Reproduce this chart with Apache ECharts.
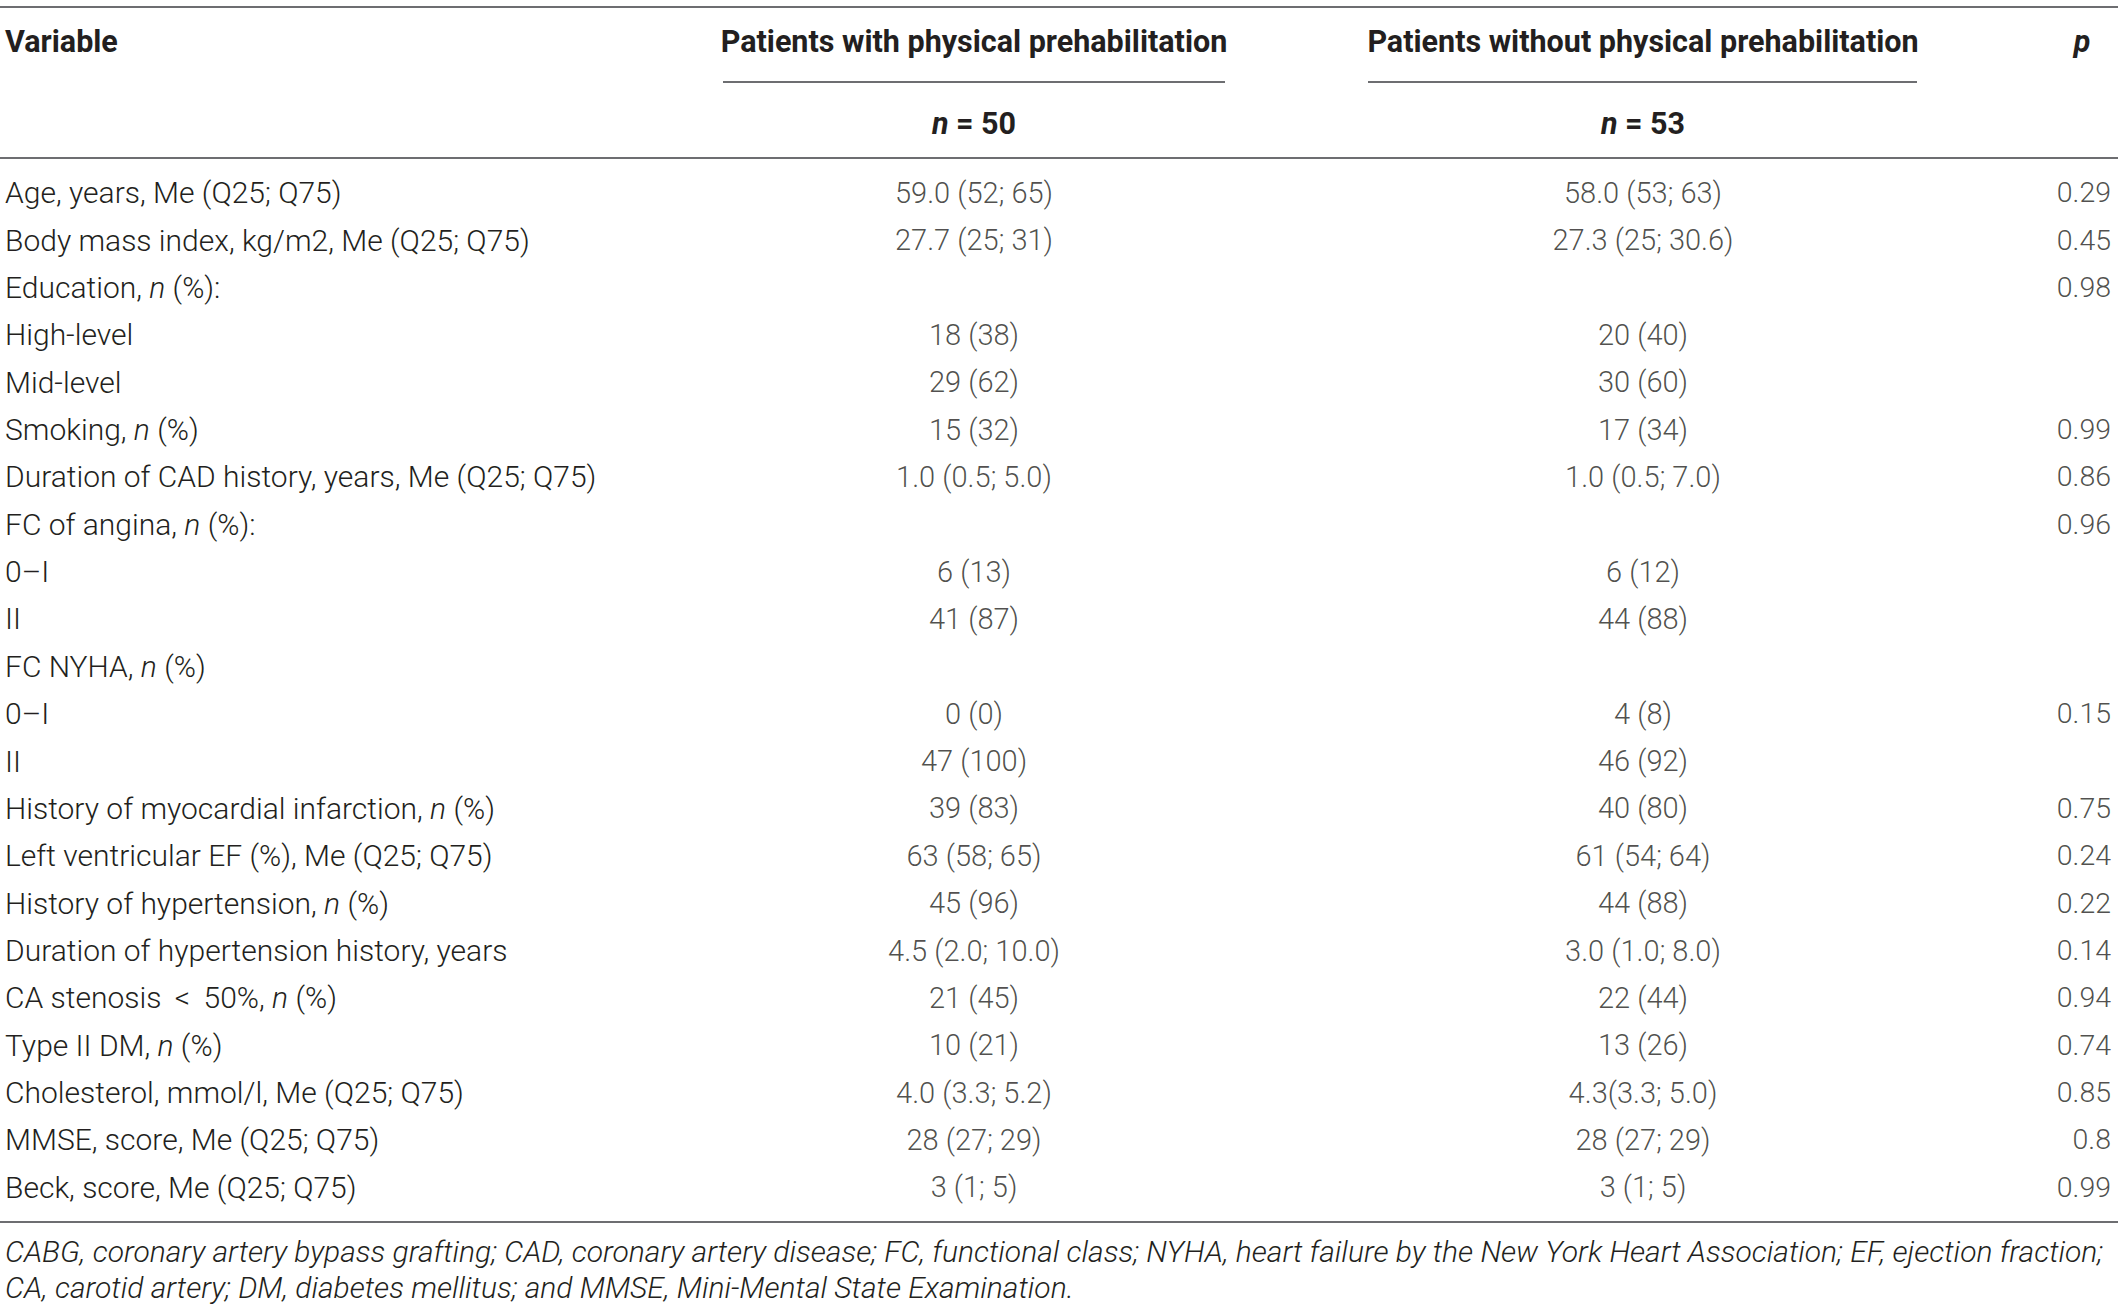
<!DOCTYPE html>
<html>
<head>
<meta charset="utf-8">
<script src="https://cdn.jsdelivr.net/npm/echarts@6/dist/echarts.min.js"></script>
<style>
	html, body { margin: 0; padding: 0; background: #fff; }
	#table { width: 2118px; height: 1309px; }
</style>
</head>
<body>
<div id="table"></div>
<script>
// row labels, {i|...} marks italic parts
var variables = [
	'Age, years, Me (Q25; Q75)',
	'Body mass index, kg/m2, Me (Q25; Q75)',
	'Education, {i|n} (%):',
	'High-level',
	'Mid-level',
	'Smoking, {i|n} (%)',
	'Duration of CAD history, years, Me (Q25; Q75)',
	'FC of angina, {i|n} (%):',
	'0\u2013I',
	'II',
	'FC NYHA, {i|n} (%)',
	'0\u2013I',
	'II',
	'History of myocardial infarction, {i|n} (%)',
	'Left ventricular EF (%), Me (Q25; Q75)',
	'History of hypertension, {i|n} (%)',
	'Duration of hypertension history, years',
	'CA stenosis \u2009<\u2009 50%, {i|n} (%)',
	'Type II DM, {i|n} (%)',
	'Cholesterol, mmol/l, Me (Q25; Q75)',
	'MMSE, score, Me (Q25; Q75)',
	'Beck, score, Me (Q25; Q75)'
];
var withPrehab = [
	'59.0 (52; 65)', '27.7 (25; 31)', '', '18 (38)', '29 (62)', '15 (32)',
	'1.0 (0.5; 5.0)', '', '6 (13)', '41 (87)', '', '0 (0)', '47 (100)',
	'39 (83)', '63 (58; 65)', '45 (96)', '4.5 (2.0; 10.0)', '21 (45)',
	'10 (21)', '4.0 (3.3; 5.2)', '28 (27; 29)', '3 (1; 5)'
];
var withoutPrehab = [
	'58.0 (53; 63)', '27.3 (25; 30.6)', '', '20 (40)', '30 (60)', '17 (34)',
	'1.0 (0.5; 7.0)', '', '6 (12)', '44 (88)', '', '4 (8)', '46 (92)',
	'40 (80)', '61 (54; 64)', '44 (88)', '3.0 (1.0; 8.0)', '22 (44)',
	'13 (26)', '4.3(3.3; 5.0)', '28 (27; 29)', '3 (1; 5)'
];
var pValues = [
	'0.29', '0.45', '0.98', '', '', '0.99', '0.86', '0.96', '', '', '',
	'0.15', '', '0.75', '0.24', '0.22', '0.14', '0.94', '0.74', '0.85', '0.8', '0.99'
];
var headers = ['Variable', 'Patients with physical prehabilitation', 'Patients without physical prehabilitation', 'p'];
var groupSizes = ['50', '53'];
var footnote = [
	'CABG, coronary artery bypass grafting; CAD, coronary artery disease; FC, functional class; NYHA, heart failure by the New York Heart Association; EF, ejection fraction;',
	'CA, carotid artery; DM, diabetes mellitus; and MMSE, Mini-Mental State Examination.'
];

var W = 2118;
var FONT = 'Roboto';
var TXT = '#231f20';
var RULE = '#6d6e71';
var FS_LABEL = 30;
var FS_VAL = 29;
var FS_P = 28.5;
var FS_HEAD = 30.5;
var FS_NOTE = 30;
var colX = [5, 974, 1643, 2111];

function colSeries(values, x, align, size) {
	return {
		type: 'scatter',
		symbolSize: 0,
		silent: true,
		data: values.map(function (v, i) { return [x, i, v]; }),
		label: {
			show: true,
			position: 'inside',
			align: align,
			verticalAlign: 'middle',
			fontFamily: FONT,
			fontWeight: 300,
			fontSize: size,
			color: TXT,
			formatter: function (p) { return p.value[2]; }
		}
	};
}

function hline(y, x1, x2) {
	return {
		type: 'line',
		shape: { x1: x1, y1: y, x2: x2, y2: y },
		style: { stroke: RULE, lineWidth: 2 }
	};
}

function htext(str, x, y, align, weight, italic, size) {
	return {
		type: 'text',
		x: x, y: y,
		style: {
			text: str,
			align: align,
			verticalAlign: 'middle',
			fontFamily: FONT,
			fontSize: size,
			fontWeight: weight,
			fontStyle: italic ? 'italic' : 'normal',
			fill: TXT
		}
	};
}

function nText(n, x) {
	return {
		type: 'text', x: x, y: 123,
		style: {
			text: '{i|n} = ' + n, align: 'center', verticalAlign: 'middle',
			fontFamily: FONT, fontSize: FS_HEAD, fontWeight: 'bold', fill: TXT,
			rich: { i: { fontFamily: FONT, fontSize: FS_HEAD, fontWeight: 'bold', fontStyle: 'italic', fill: TXT } }
		}
	};
}

var chart = echarts.init(document.getElementById('table'), null, { renderer: 'svg' });
chart.setOption({
	animation: false,
	backgroundColor: '#fff',
	grid: { left: 0, right: 0, top: 169, height: 1042 },
	xAxis: { type: 'value', min: 0, max: W, show: false },
	yAxis: {
		type: 'category',
		inverse: true,
		data: variables,
		axisLine: { show: false },
		axisTick: { show: false },
		splitLine: { show: false },
		axisLabel: {
			inside: true,
			margin: colX[0],
			align: 'left',
			fontFamily: FONT,
			fontWeight: 300,
			fontSize: FS_LABEL,
			color: TXT,
			rich: {
				i: { fontFamily: FONT, fontWeight: 300, fontStyle: 'italic', fontSize: FS_LABEL, color: TXT }
			}
		}
	},
	series: [
		colSeries(withPrehab, colX[1], 'center', FS_VAL),
		colSeries(withoutPrehab, colX[2], 'center', FS_VAL),
		colSeries(pValues, colX[3], 'right', FS_P)
	],
	graphic: [
		hline(7, 0, W),
		hline(82, 723, 1225),
		hline(82, 1368, 1917),
		hline(158, 0, W),
		hline(1222, 0, W),
		htext(headers[0], colX[0], 41, 'left', 'bold', false, FS_HEAD),
		htext(headers[1], colX[1], 41, 'center', 'bold', false, FS_HEAD),
		htext(headers[2], colX[2], 41, 'center', 'bold', false, FS_HEAD),
		htext(headers[3], 2082, 41, 'center', 'bold', true, FS_HEAD),
		nText(groupSizes[0], colX[1]),
		nText(groupSizes[1], colX[2]),
		htext(footnote[0], colX[0], 1251, 'left', 300, true, FS_NOTE),
		htext(footnote[1], colX[0], 1287, 'left', 300, true, FS_NOTE)
	]
});
</script>
</body>
</html>
